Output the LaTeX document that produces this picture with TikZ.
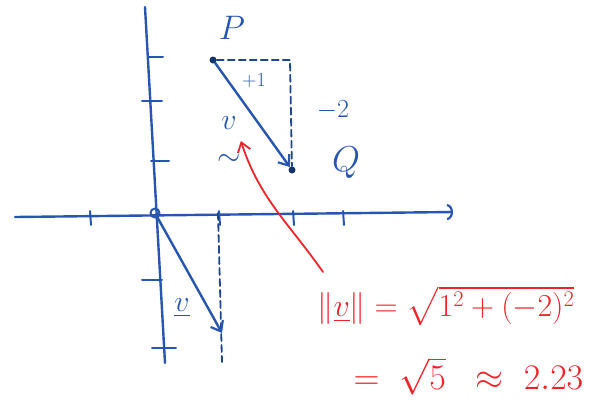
\RequirePackage{fix-cm}
\documentclass[tikz,border=0pt]{standalone}
\usepackage{amsmath,amssymb}
\usetikzlibrary{arrows.meta,positioning}
\definecolor{penblue}{RGB}{38,86,176}
\definecolor{penred}{RGB}{238,36,42}

\begin{document}
\begin{tikzpicture}[x=1pt,y=-1pt,line cap=round,line join=round,
  every node/.style={font=\fontsize{30}{34}\selectfont,text=penblue},
  axis/.style={penblue,line width=2.4pt},
  tick/.style={penblue,line width=2pt},
  vec/.style={penblue,line width=2.4pt,-{Straight Barb[length=9pt,width=14pt,line width=2.2pt]}},
  guide/.style={penblue!80!black,line width=1.8pt,dash pattern=on 7pt off 4pt},
  dot/.style={circle,fill=penblue!60!black,inner sep=0pt,minimum size=7pt},
  ring/.style={circle,draw=penblue,line width=2pt,inner sep=0pt,minimum size=9pt},
  redtext/.style={text=penred,font=\fontsize{32}{38}\selectfont}]
\useasboundingbox (0,0) rectangle (611,405);
% axes
\coordinate (xl) at (15,217);
\coordinate (xr) at (453,212);
\coordinate (yt) at (145,7);
\coordinate (yb) at (165,363);
\draw[axis] (yt)--(yb);
\draw[axis,-{Arc Barb[length=6pt,width=16pt,line width=2.2pt]}] (xl)--(xr);
\foreach \y/\a/\b in {57/148/163,101/142/162,161/151/169,280/142/162,348/152/176}
  \draw[tick] (\a,\y)--(\b,\y);
\foreach \x in {90,219,293,343}
  \draw[tick] (\x,211)--(\x+1,225);
\node[ring] (O) at (155,213) {};
% P to Q
\node[dot] (P) at (213,60) {};
\node[dot] (Q) at (292,170) {};
\coordinate (R) at (290,60);
\draw[guide] (P)--(R)--(Q);
\draw[vec] (P)--(Q);
\node[font=\fontsize{34}{38}\selectfont] (Plbl) at (232,28) {$P$};
\node[font=\fontsize{36}{40}\selectfont] (Qlbl) at (346,163) {$Q$};
\node[font=\fontsize{20}{24}\selectfont] (dx) at (254,81) {$+1$};
\node[font=\fontsize{26}{30}\selectfont] (dy) at (333,110) {$-2$};
\node[align=center,inner sep=0pt] (vtop) at (229,141) {$v$\\[2pt]$\sim$};
% v from the origin
\coordinate (V) at (222,333);
\coordinate (Vt) at (218,213);
\coordinate (Vb) at (222,362);
\draw[guide] (Vt)--(Vb);
\draw[vec] (O)--(V);
\node (vbot) at (182,308) {$\underline{v}$};
% length
\node[redtext,anchor=west] (norm) at (314,306) {$\|\underline{v}\| = \sqrt{1^2+(-2)^2}$};
\node[redtext,anchor=west,font=\fontsize{36}{40}\selectfont] (approx) at (350,376) {$=\;\sqrt{5}\;\;\approx\;2.23$};
\coordinate (tail) at (323,272);
\draw[penred,line width=1.8pt,-{Straight Barb[length=9pt,width=13pt,line width=1.8pt]}]
  (tail) to[out=125,in=-72] (vtop.east);
\end{tikzpicture}
\end{document}
